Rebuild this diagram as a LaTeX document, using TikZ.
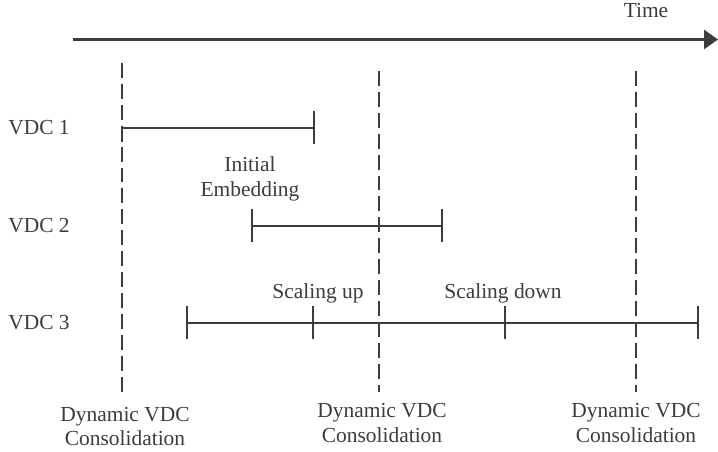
\documentclass[tikz,border=0pt]{standalone}
\usepackage{fontspec}
\setmainfont{Liberation Serif}
\usetikzlibrary{arrows.meta}
\definecolor{inkgray}{RGB}{60,60,60}

\begin{document}
\begin{tikzpicture}[x=0.02cm, y=-0.02cm,
  lbl/.style={font=\fontsize{12.2}{14.2}\selectfont, text=inkgray, inner sep=0pt, align=center},
  epoch/.style={draw=inkgray, line width=1.3pt, dash pattern=on 8.5pt off 3.4pt},
  span/.style={draw=inkgray, line width=1.2pt},
  endbar/.style={{Bar[width=0.66cm]}-{Bar[width=0.66cm]}},
  nextbar/.style={-{Bar[width=0.66cm]}}]
  \useasboundingbox (0,0) rectangle (718,452);
  % time axis
  \coordinate (t0) at (73,39.5);
  \coordinate (t1) at (718,39.5);
  \draw[inkgray, line width=1.6pt, -{Triangle[length=0.28cm, width=0.38cm]}] (t0) -- (t1);
  \node[lbl, anchor=base] (time) at (646,18) {Time};
  % consolidation epochs
  \node[lbl, anchor=north] (cons1) at (125,406.5) {Dynamic VDC\\Consolidation};
  \node[lbl, anchor=north] (cons2) at (382,403) {Dynamic VDC\\Consolidation};
  \node[lbl, anchor=north] (cons3) at (636,403) {Dynamic VDC\\Consolidation};
  \coordinate (e1) at (122,63);
  \coordinate (e2) at (379,71);
  \coordinate (e3) at (636,71);
  \draw[epoch] (e1) -- (122,397);
  \draw[epoch] (e2) -- (379,392);
  \draw[epoch] (e3) -- (636,392);
  % VDC rows
  \node[lbl, anchor=base west] (vdc1) at (8,135) {VDC 1};
  \node[lbl, anchor=base west] (vdc2) at (8,233) {VDC 2};
  \node[lbl, anchor=base west] (vdc3) at (8,330) {VDC 3};
  \coordinate (a1) at (122,128);
  \coordinate (a2) at (315,128);
  \draw[span, nextbar] (a1) -- (a2);
  \draw[span] (a1) -- ++(0,14);
  \node[lbl, anchor=north] (init) at (250,156) {Initial\\Embedding};
  \coordinate (b1) at (251,226);
  \coordinate (b2) at (443,226);
  \draw[span, endbar] (b1) -- (b2);
  \coordinate (c1) at (186,323);
  \coordinate (c2) at (314,323);
  \coordinate (c3) at (506,323);
  \coordinate (c4) at (699,323);
  \draw[span, endbar] (c1) -- (c2);
  \draw[span, nextbar] (c2) -- (c3);
  \draw[span, nextbar] (c3) -- (c4);
  \node[lbl, anchor=base] (up) at (318,299) {Scaling up};
  \node[lbl, anchor=base] (down) at (503,299) {Scaling down};
\end{tikzpicture}
\end{document}
